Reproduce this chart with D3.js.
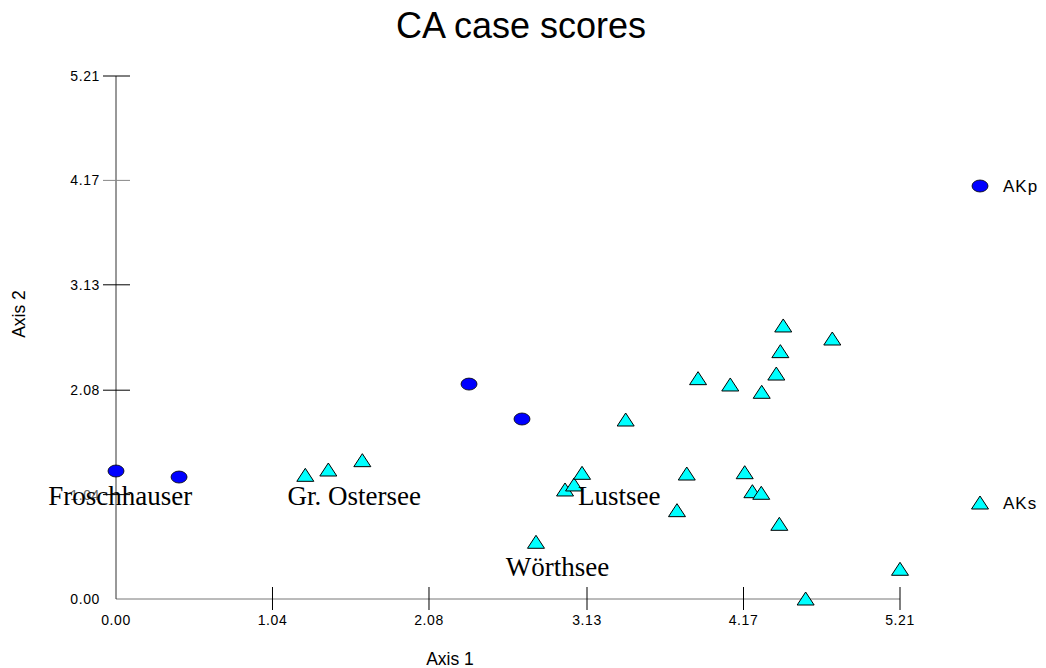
<!DOCTYPE html>
<html><head><meta charset="utf-8">
<script src="https://cdn.jsdelivr.net/npm/d3@7"></script>
<style>body{margin:0;background:#fff}</style>
</head><body>
<svg id="c" width="1046" height="668"></svg>
<script>
const tickValues = [0, 1.04, 2.08, 3.13, 4.17, 5.21];
const tickLabels = ["0.00", "1.04", "2.08", "3.13", "4.17", "5.21"];
const akpX = [0.000, 0.419, 2.346, 2.698];
const akpY = [1.275, 1.215, 2.141, 1.793];
const aksX = [1.258, 1.411, 1.637, 2.791, 2.984, 3.044, 3.097, 3.387, 3.728, 3.793, 3.868, 4.082, 4.178, 4.229, 4.288, 4.291, 4.388, 4.408, 4.415, 4.434, 4.583, 4.760, 5.210];
const aksY = [1.232, 1.285, 1.378, 0.565, 1.086, 1.136, 1.252, 1.783, 0.880, 1.245, 2.195, 2.132, 1.258, 1.069, 1.053, 2.059, 2.241, 0.744, 2.464, 2.720, 0.000, 2.590, 0.296];
const siteNames = ["Froschhauser", "Gr. Ostersee", "Lustsee", "Wörthsee"];
const siteX = [-0.45, 1.14, 3.07, 2.59];
const siteY = [0.937, 0.937, 0.937, 0.229];
const seriesNames = ["AKp", "AKs"];

const svg = d3.select("#c");
const x = d3.scaleLinear().domain([0, 5.21]).range([116, 900]);
const y = d3.scaleLinear().domain([0, 5.21]).range([599, 76]);
const font = "Liberation Sans, Arial, sans-serif";

// title
svg.append("text").attr("x", 521).attr("y", 38).attr("text-anchor", "middle")
  .attr("font-family", font).attr("font-size", 36).text("CA case scores");

// axes lines
svg.append("line").attr("x1", x(0)).attr("x2", x(5.21)).attr("y1", y(0)).attr("y2", y(0)).attr("stroke", "#777");
svg.append("line").attr("x1", x(0)).attr("x2", x(0)).attr("y1", y(0)).attr("y2", y(5.21)).attr("stroke", "#333");

// x ticks
tickValues.forEach((v, i) => {
  if (v > 0) svg.append("line").attr("x1", x(v)).attr("x2", x(v)).attr("y1", y(0) - 12).attr("y2", y(0) + 11).attr("stroke", "#000");
  svg.append("text").attr("x", x(v)).attr("y", 625).attr("text-anchor", "middle")
    .attr("font-family", font).attr("font-size", 14).attr("letter-spacing", 0.6).text(tickLabels[i]);
});
// y ticks
tickValues.forEach((v, i) => {
  if (v > 0) svg.append("line").attr("x1", x(0) - 13).attr("x2", x(0) + 14).attr("y1", y(v)).attr("y2", y(v))
    .attr("stroke", v === 4.17 ? "#888" : "#000");
  svg.append("text").attr("x", 100).attr("y", y(v) + 5).attr("text-anchor", "end")
    .attr("font-family", font).attr("font-size", 14).attr("letter-spacing", 0.6)
    .attr("fill", v === 1.04 ? "#666" : "#000").text(tickLabels[i]);
});

svg.append("text").attr("x", 450).attr("y", 665).attr("text-anchor", "middle")
  .attr("font-family", font).attr("font-size", 17.5).text("Axis 1");
svg.append("text").attr("transform", "translate(25,314) rotate(-90)").attr("text-anchor", "middle")
  .attr("font-family", font).attr("font-size", 17.5).text("Axis 2");

function drawTri(g, cx, cy) {
  g.append("path").attr("d", "M0,-7 L8.5,6 L-8.5,6 Z").attr("transform", `translate(${cx},${cy})`)
    .attr("fill", "#00ffff").attr("stroke", "#000").attr("stroke-width", 1);
}
function drawEll(g, cx, cy) {
  g.append("ellipse").attr("cx", cx).attr("cy", cy).attr("rx", 8).attr("ry", 6)
    .attr("fill", "#0000ff").attr("stroke", "#000").attr("stroke-width", 0.8);
}

const pts = svg.append("g");
aksX.forEach((v, i) => drawTri(pts, x(v), y(aksY[i])));
akpX.forEach((v, i) => drawEll(pts, x(v), y(akpY[i])));

// site labels
siteNames.forEach((n, i) => {
  svg.append("text").attr("x", x(siteX[i])).attr("y", y(siteY[i])).attr("font-family", "Liberation Serif, Times New Roman, serif")
    .attr("font-size", 27).text(n);
});

// legend
drawEll(svg, 980, 186);
svg.append("text").attr("x", 1003).attr("y", 192).attr("font-family", font).attr("font-size", 17).attr("letter-spacing", 1).text(seriesNames[0]);
drawTri(svg, 980, 503);
svg.append("text").attr("x", 1003).attr("y", 509).attr("font-family", font).attr("font-size", 17).attr("letter-spacing", 1).text(seriesNames[1]);
</script>
</body></html>
